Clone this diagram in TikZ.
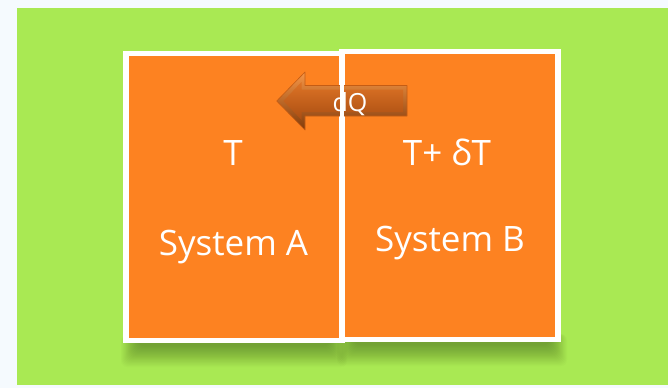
\documentclass[tikz,border=0pt]{standalone}
\usepackage{fontspec}
\setmainfont{Open Sans}
\usetikzlibrary{calc}
\definecolor{bgout}{RGB}{245,250,254}
\definecolor{grn}{RGB}{169,233,83}
\definecolor{org}{RGB}{253,130,33}
\definecolor{bevtop}{RGB}{246,150,70}
\definecolor{bevbot}{RGB}{128,58,10}
\definecolor{arrtop}{RGB}{222,116,38}
\definecolor{arrbot}{RGB}{170,78,18}
\definecolor{arredge}{RGB}{196,92,20}
\begin{document}
\begin{tikzpicture}[x=1pt,y=-1pt,
  sysbox/.style={draw=white,line width=5.3pt,fill=org,inner sep=0pt,outer sep=0pt,
    minimum width=216pt,minimum height=287.4pt},
  lbl/.style={text=white,font=\fontsize{35}{40}\selectfont,anchor=base,inner sep=0pt},
  smalllbl/.style={text=white,font=\fontsize{25}{30}\selectfont,anchor=base,inner sep=0pt},
  shadowpiece/.style={fill=black,opacity=0.016},
  arrowbevel/.style={top color=bevtop,bottom color=bevbot,draw=arredge,line width=0.6pt,line join=round},
  arrowface/.style={top color=arrtop,bottom color=arrbot,line join=round}]
\useasboundingbox (0,0) rectangle (668,388);
\fill[bgout] (0,0) rectangle (668,388);
\fill[grn] (17,8) rectangle (668,385);
% shadows
\coordinate (sa1) at (123,343);
\coordinate (sa2) at (345,343);
\coordinate (sb1) at (339,342);
\coordinate (sb2) at (561,342);
\foreach \i in {0,...,19}{
  \fill[shadowpiece,rounded corners=6pt] ($(sa1)+(-2+\i*0.9,-8)$) rectangle ($(sa2)+(2-\i*0.9,24-1.1*\i)$);
  \fill[shadowpiece,rounded corners=6pt] ($(sb1)+(-2+\i*0.9,-8)$) rectangle ($(sb2)+(6-\i*0.9,24-1.1*\i)$);
}
% boxes
\node[sysbox] (A) at (234,197) {};
\node[sysbox] (B) at (450,195.5) {};
% arrow
\path[arrowbevel] (276.7,101) -- (305,72) -- (305,85.5) -- (407,85.5) -- (407,116)
  -- (305,116) -- (305,130) -- cycle;
\path[arrowface] (283.5,101) -- (301.5,82) -- (301.5,89.5) -- (403,89.5) -- (403,112)
  -- (301.5,112) -- (301.5,120) -- cycle;
\draw[white,line width=4.5pt] (B.north west) -- (B.south west);
% labels
\node[smalllbl] (dq) at (350,111) {dQ};
\node[lbl] (ta) at (233,165) {T};
\node[lbl] (tb) at (447,165) {T+ δT};
\node[lbl] (sa) at (233.5,255) {System A};
\node[lbl] (sb) at (450,251) {System B};
\end{tikzpicture}
\end{document}
